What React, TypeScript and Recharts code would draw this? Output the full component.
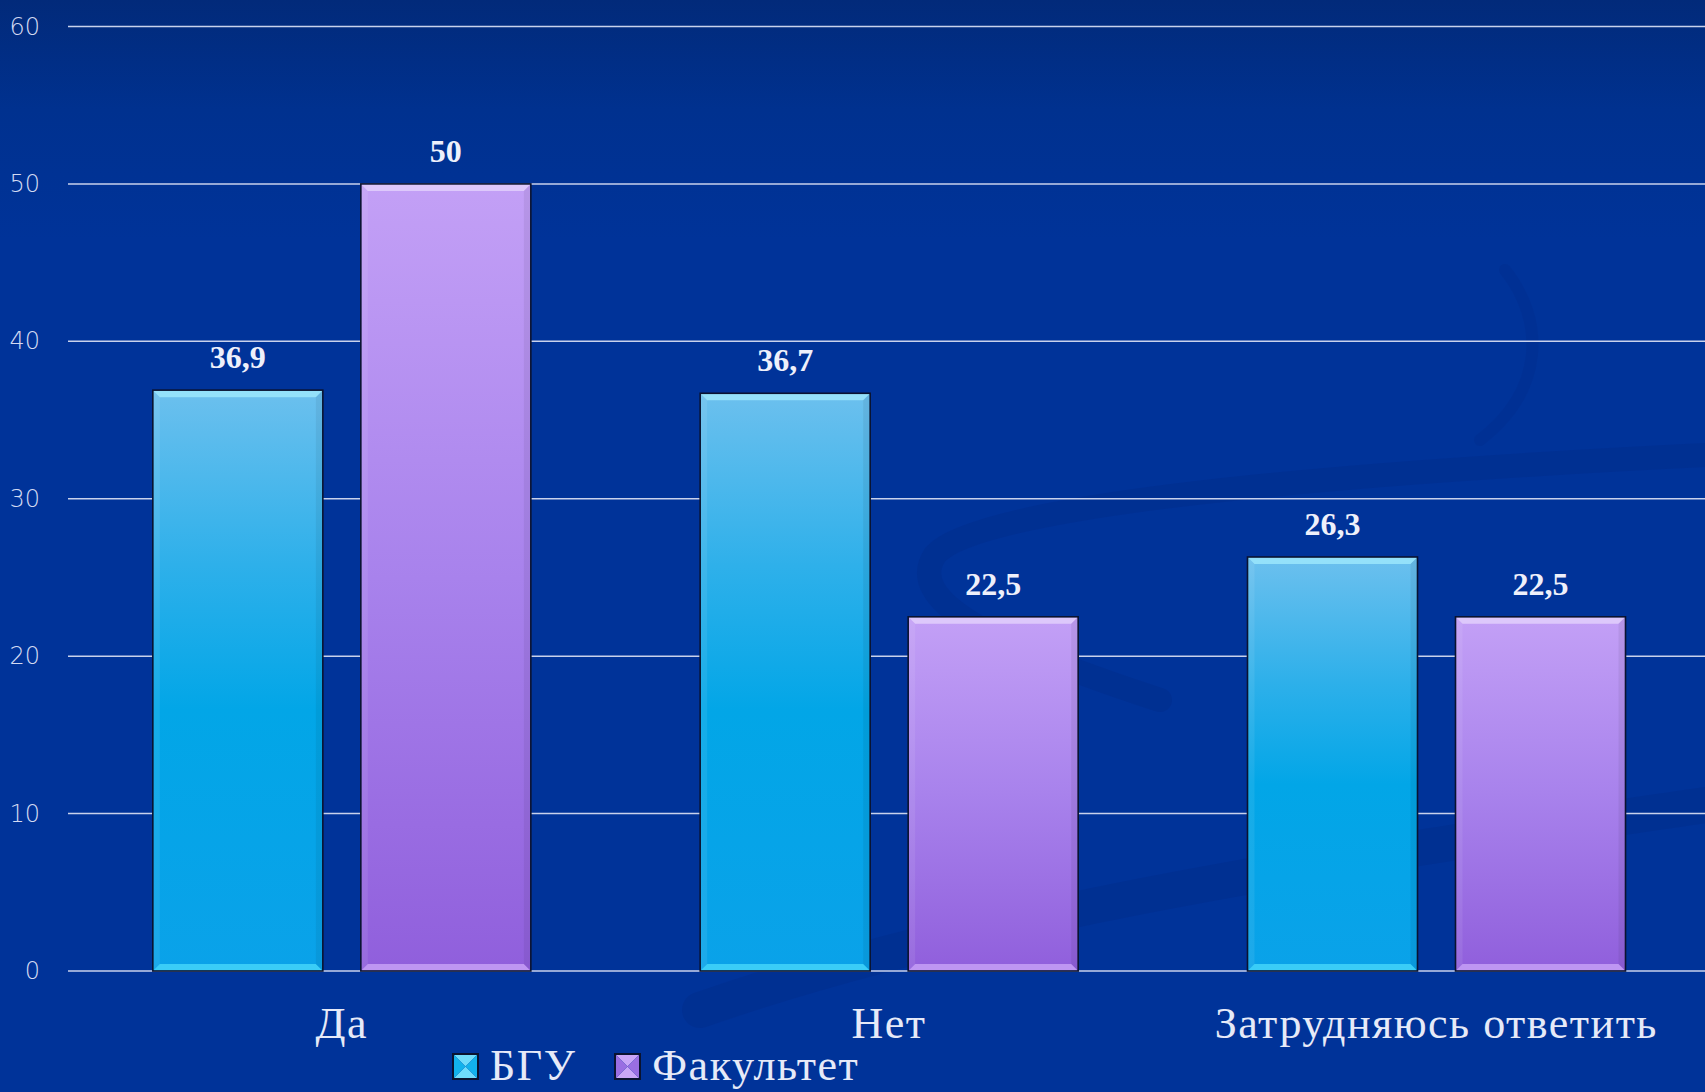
import { BarChart, Bar, XAxis, YAxis, CartesianGrid, LabelList } from 'recharts';

const categories = ['Да', 'Нет', 'Затрудняюсь ответить'];
const bguValues = [36.9, 36.7, 26.3];
const facultyValues = [50, 22.5, 22.5];
const seriesNames = ['БГУ', 'Факультет'];
const yTicks = [0, 10, 20, 30, 40, 50, 60];

const data = categories.map((name, i) => ({
  name,
  bgu: bguValues[i],
  faculty: facultyValues[i],
}));

const W = 1705;
const H = 1092;

const BEVEL = {
  bgu: { id: 'gradBgu', top: '#9be6fb', bottom: '#3fd2f8', side: '#ffffff' },
  faculty: { id: 'gradFac', top: '#e2cffc', bottom: '#c39cf4', side: '#ffffff' },
};

const fmt = (v: number) => String(v).replace('.', ',');

function BevelBar(props: any, kind: 'bgu' | 'faculty') {
  const { x, y, width: w, height: h } = props;
  if (!h || h <= 0) return <g />;
  const b = 7;
  const c = BEVEL[kind];
  return (
    <g>
      <rect x={x} y={y} width={w} height={h} fill={`url(#${c.id})`} />
      <polygon
        points={`${x},${y} ${x + w},${y} ${x + w - b},${y + b} ${x + b},${y + b}`}
        fill={c.top}
        opacity={0.85}
      />
      <polygon
        points={`${x},${y + h} ${x + w},${y + h} ${x + w - b},${y + h - b} ${x + b},${y + h - b}`}
        fill={c.bottom}
        opacity={0.9}
      />
      <polygon
        points={`${x},${y} ${x + b},${y + b} ${x + b},${y + h - b} ${x},${y + h}`}
        fill={c.side}
        opacity={0.08}
      />
      <polygon
        points={`${x + w},${y} ${x + w - b},${y + b} ${x + w - b},${y + h - b} ${x + w},${y + h}`}
        fill="#000000"
        opacity={0.06}
      />
      <rect x={x} y={y} width={w} height={h} fill="none" stroke="#0a1330" strokeWidth={1.6} />
    </g>
  );
}

function YTick({ x, y, payload }: any) {
  return (
    <text
      x={x}
      y={y}
      textAnchor="end"
      dominantBaseline="central"
      fill="#d3daf2"
      fontSize={24}
      fontWeight={300}
      fontFamily="'DejaVu Sans', sans-serif"
    >
      {payload.value}
    </text>
  );
}

function XTick({ x, y, payload }: any) {
  return (
    <text
      x={x}
      y={y}
      dy={67}
      textAnchor="middle"
      fill="#e6eaf8"
      fontSize={44}
      letterSpacing={1.5}
      fontFamily="'Liberation Serif', serif"
    >
      {payload.value}
    </text>
  );
}

function LegendIcon({ kind }: { kind: 'bgu' | 'faculty' }) {
  const s = 27;
  const m = s / 2;
  const cols =
    kind === 'bgu'
      ? { tb: '#6fdcfb', lr: '#12b2ec' }
      : { tb: '#c9a6f7', lr: '#9a6ee2' };
  return (
    <svg width={s} height={s} style={{ marginRight: 11 }}>
      <polygon points={`0,0 ${s},0 ${m},${m}`} fill={cols.tb} />
      <polygon points={`0,${s} ${s},${s} ${m},${m}`} fill={cols.tb} />
      <polygon points={`0,0 0,${s} ${m},${m}`} fill={cols.lr} />
      <polygon points={`${s},0 ${s},${s} ${m},${m}`} fill={cols.lr} />
      <rect x={1} y={1} width={s - 2} height={s - 2} fill="none" stroke="#0a1330" strokeWidth={2} />
    </svg>
  );
}

export default function App() {
  return (
    <div
      style={{
        position: 'fixed',
        left: 0,
        top: 0,
        width: W,
        height: H,
        overflow: 'hidden',
        background: 'linear-gradient(180deg, #022a7a 0%, #00318f 10%, #003399 22%, #003399 100%)',
      }}
    >
      <svg width={W} height={H} style={{ position: 'absolute', left: 0, top: 0 }}>
        <g fill="none" strokeLinecap="round">
          <path
            d="M 1705 455 C 1400 470, 980 500, 935 555 C 905 600, 990 645, 1160 700"
            stroke="#00287f"
            strokeWidth={24}
            opacity={0.25}
          />
          <path
            d="M 700 1010 C 1000 905, 1400 850, 1705 805"
            stroke="#00287f"
            strokeWidth={36}
            opacity={0.25}
          />
          <path
            d="M 1505 270 C 1545 320, 1545 390, 1480 440"
            stroke="#00287f"
            strokeWidth={12}
            opacity={0.18}
          />
        </g>
      </svg>

      <div style={{ position: 'absolute', left: 0, top: 0 }}>
        <BarChart
          width={W}
          height={H}
          data={data}
          margin={{ top: 26.5, right: -5, left: 0, bottom: 41 }}
          barCategoryGap="15.5%"
          barGap={38}
        >
          <defs>
            <linearGradient id="gradBgu" x1="0" y1="0" x2="0" y2="1">
              <stop offset="0%" stopColor="#6cc0ee" />
              <stop offset="30%" stopColor="#2eb0ea" />
              <stop offset="55%" stopColor="#02a6e7" />
              <stop offset="100%" stopColor="#0aa2e9" />
            </linearGradient>
            <linearGradient id="gradFac" x1="0" y1="0" x2="0" y2="1">
              <stop offset="0%" stopColor="#c3a0f6" />
              <stop offset="50%" stopColor="#a882ec" />
              <stop offset="100%" stopColor="#905fdc" />
            </linearGradient>
          </defs>
          <CartesianGrid vertical={false} stroke="#c9d2ec" strokeWidth={1.5} />
          <XAxis
            dataKey="name"
            height={80}
            axisLine={false}
            tickLine={false}
            tickSize={0}
            tickMargin={0}
            tick={<XTick />}
            interval={0}
          />
          <YAxis
            width={68}
            domain={[0, 60]}
            ticks={yTicks}
            axisLine={false}
            tickLine={false}
            tickSize={0}
            tickMargin={28}
            tick={<YTick />}
          />
          <Bar
            dataKey="bgu"
            name={seriesNames[0]}
            isAnimationActive={false}
            shape={(p: any) => BevelBar(p, 'bgu')}
          >
            <LabelList
              dataKey="bgu"
              position="top"
              offset={22}
              formatter={(v: any) => fmt(v)}
              fill="#eef0fb"
              fontSize={32}
              fontWeight="bold"
              fontFamily="'Liberation Serif', serif"
            />
          </Bar>
          <Bar
            dataKey="faculty"
            name={seriesNames[1]}
            isAnimationActive={false}
            shape={(p: any) => BevelBar(p, 'faculty')}
          >
            <LabelList
              dataKey="faculty"
              position="top"
              offset={22}
              formatter={(v: any) => fmt(v)}
              fill="#eef0fb"
              fontSize={32}
              fontWeight="bold"
              fontFamily="'Liberation Serif', serif"
            />
          </Bar>
        </BarChart>
      </div>

      <div
        style={{
          position: 'absolute',
          left: 452,
          top: 1044,
          display: 'flex',
          alignItems: 'center',
          fontFamily: "'Liberation Serif', serif",
          fontSize: 44,
          letterSpacing: 1.5,
          color: '#e6eaf8',
          lineHeight: '44px',
        }}
      >
        <LegendIcon kind="bgu" />
        <span style={{ marginRight: 38 }}>{seriesNames[0]}</span>
        <LegendIcon kind="faculty" />
        <span>{seriesNames[1]}</span>
      </div>
    </div>
  );
}
